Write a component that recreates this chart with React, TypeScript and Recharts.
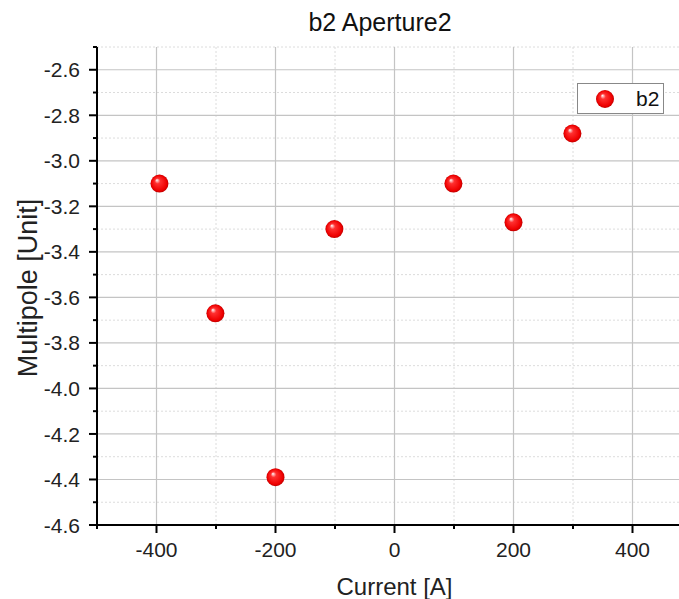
import React from 'react';
import {
  ScatterChart,
  Scatter,
  XAxis,
  YAxis,
  ReferenceLine,
  Label,
} from 'recharts';

// b2 multipole readings vs. current
const currents = [-395, -301, -200, -101, 99, 200, 299];
const b2Values = [-3.1, -3.67, -4.39, -3.3, -3.1, -3.27, -2.88];

const xMajor = [-400, -200, 0, 200, 400];
const xMinor = [-500, -300, -100, 100, 300, 500];
const yMajor = [-4.6, -4.4, -4.2, -4.0, -3.8, -3.6, -3.4, -3.2, -3.0, -2.8, -2.6];
const yMinor = [-4.5, -4.3, -4.1, -3.9, -3.7, -3.5, -3.3, -3.1, -2.9, -2.7, -2.5];

const data = currents.map((x, i) => ({ x, y: b2Values[i] }));

const FONT = '"Liberation Sans", Arial, sans-serif';
const isMajor = (list: number[], v: number) => list.some((m) => Math.abs(m - v) < 1e-6);

const xTicks = [...xMajor, ...xMinor].sort((a, b) => a - b);
const yTicks = [...yMajor, ...yMinor].sort((a, b) => a - b);

function BottomTick(props: any) {
  const { x, y, payload } = props;
  const major = isMajor(xMajor, payload.value);
  return (
    <g>
      <line x1={x} x2={x} y1={y} y2={y + (major ? 8 : 4)} stroke="#000" strokeWidth={2} />
      {major && (
        <text x={x} y={y + 32} textAnchor="middle" fontSize={21} fontFamily={FONT} fill="#222">
          {payload.value}
        </text>
      )}
    </g>
  );
}

function TopTick(props: any) {
  const { x, y, payload } = props;
  const major = isMajor(xMajor, payload.value);
  return <line x1={x} x2={x} y1={y} y2={y + (major ? 8 : 4)} stroke="#000" strokeWidth={2} />;
}

function LeftTick(props: any) {
  const { x, y, payload } = props;
  const major = isMajor(yMajor, payload.value);
  return (
    <g>
      <line x1={x} x2={x - (major ? 8 : 4)} y1={y} y2={y} stroke="#000" strokeWidth={2} />
      {major && (
        <text x={x - 17} y={y} dy="0.36em" textAnchor="end" fontSize={21} fontFamily={FONT} fill="#222">
          {payload.value.toFixed(1)}
        </text>
      )}
    </g>
  );
}

function Ball(props: any) {
  const { cx, cy } = props;
  return <circle cx={cx} cy={cy} r={9} fill="url(#ballFill)" />;
}

function LegendBox() {
  return (
    <div
      style={{
        position: 'absolute',
        left: 577,
        top: 83,
        width: 85,
        height: 29,
        border: '1px solid #888',
        background: '#fff',
        display: 'flex',
        alignItems: 'center',
        fontFamily: FONT,
        fontSize: 21,
        color: '#111',
      }}
    >
      <svg width={50} height={29}>
        <defs>
          <radialGradient id="legendBall" cx="50%" cy="50%" r="50%" fx="35%" fy="30%">
            <stop offset="0%" stopColor="#ffffff" />
            <stop offset="30%" stopColor="#ff3030" />
            <stop offset="85%" stopColor="#ee0000" />
            <stop offset="100%" stopColor="#c00000" />
          </radialGradient>
        </defs>
        <circle cx={27} cy={15} r={9} fill="url(#legendBall)" />
      </svg>
      <span style={{ marginLeft: 8 }}>b2</span>
    </div>
  );
}

export default function App() {
  return (
    <div style={{ position: 'fixed', left: 0, top: 0, width: 679, height: 599, overflow: 'hidden', background: '#fff' }}>
      <div
        style={{
          position: 'absolute',
          left: 0,
          width: 760,
          top: 7,
          textAlign: 'center',
          fontFamily: FONT,
          fontSize: 25,
          color: '#111',
          lineHeight: '30px',
        }}
      >
        b2 Aperture2
      </div>
      <ScatterChart width={701} height={599} margin={{ top: 47, right: 9, bottom: 0, left: 0 }}>
        <defs>
          <radialGradient id="ballFill" cx="50%" cy="50%" r="50%" fx="35%" fy="30%">
            <stop offset="0%" stopColor="#ffffff" />
            <stop offset="30%" stopColor="#ff3030" />
            <stop offset="85%" stopColor="#ee0000" />
            <stop offset="100%" stopColor="#c00000" />
          </radialGradient>
        </defs>
        <XAxis
          dataKey="x"
          type="number"
          domain={[-500, 500]}
          ticks={xTicks}
          interval={0}
          height={74}
          tickSize={0}
          tickMargin={0}
          tickLine={false}
          tick={<BottomTick />}
          axisLine={{ stroke: '#000', strokeWidth: 2 }}
        >
          <Label
            content={(p: any) => (
              <text
                x={p.viewBox.x + p.viewBox.width / 2}
                y={595}
                textAnchor="middle"
                fontSize={24}
                fontFamily={FONT}
                fill="#222"
              >
                Current [A]
              </text>
            )}
          />
        </XAxis>
        <XAxis
          xAxisId="top"
          orientation="top"
          type="number"
          domain={[-500, 500]}
          ticks={xTicks}
          interval={0}
          height={0}
          tickSize={0}
          tickMargin={0}
          tickLine={false}
          tick={<TopTick />}
          axisLine={{ stroke: '#000', strokeWidth: 2 }}
        />
        <YAxis
          dataKey="y"
          type="number"
          domain={[-4.6, -2.5]}
          ticks={yTicks}
          interval={0}
          width={97}
          tickSize={0}
          tickMargin={0}
          tickLine={false}
          tick={<LeftTick />}
          axisLine={{ stroke: '#000', strokeWidth: 2 }}
        >
          <Label
            content={(p: any) => {
              const cy = p.viewBox.y + p.viewBox.height / 2 + 2;
              return (
                <text
                  x={37}
                  y={cy}
                  transform={`rotate(-90, 37, ${cy})`}
                  textAnchor="middle"
                  fontSize={27}
                  fontFamily={FONT}
                  fill="#222"
                >
                  Multipole [Unit]
                </text>
              );
            }}
          />
        </YAxis>
        {xMinor.map((v) => (
          <ReferenceLine key={`xm${v}`} x={v} stroke="#dcdcdc" strokeDasharray="2 2" />
        ))}
        {yMinor.map((v) => (
          <ReferenceLine key={`ym${v}`} y={v} stroke="#dcdcdc" strokeDasharray="2 2" />
        ))}
        {xMajor.map((v) => (
          <ReferenceLine key={`xM${v}`} x={v} stroke="#c4c4c4" strokeWidth={1.2} />
        ))}
        {yMajor.map((v) => (
          <ReferenceLine key={`yM${v}`} y={v} stroke="#c4c4c4" strokeWidth={1.2} />
        ))}
        <Scatter name="b2" data={data} shape={<Ball />} isAnimationActive={false} />
      </ScatterChart>
      <LegendBox />
    </div>
  );
}
